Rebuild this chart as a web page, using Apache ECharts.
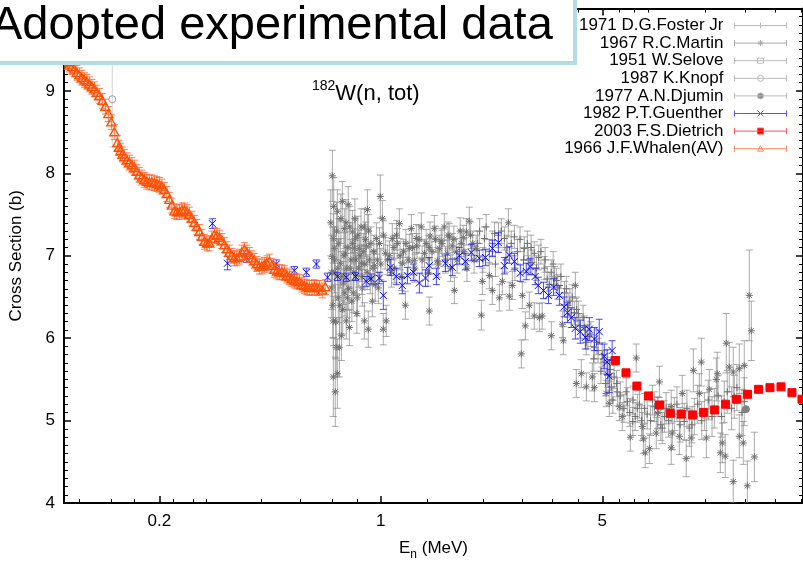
<!DOCTYPE html>
<html>
<head>
<meta charset="utf-8">
<title>182W(n, tot)</title>
<script src="https://cdn.jsdelivr.net/npm/echarts@6/dist/echarts.min.js"></script>
<style>
  html, body { margin: 0; padding: 0; background: #fff; }
  #chart { width: 803px; height: 566px; }
</style>
</head>
<body>
<div id="chart"></div>
<script>
// each point: [E (MeV), cross section (b), error (b)]
var fosterData = [
  [2.123,7.21,0.14],[2.285,7.27,0.14],[2.455,7.21,0.14],[2.639,7.23,0.14],[2.837,7.09,0.14],[3.05,7.03,0.14],
  [3.28,6.85,0.14],[3.53,6.73,0.14],[3.80,6.55,0.14],[4.08,6.31,0.14],[4.39,6.13,0.14],[4.72,5.89,0.14],
  [5.07,5.71,0.14],[5.45,5.53,0.14],[5.58,5.35,0.17],[6.00,5.23,0.17],[6.45,5.15,0.17],[6.93,5.08,0.18],
  [7.30,5.17,0.18],[7.85,5.05,0.19],[8.44,5.08,0.20],[9.07,4.99,0.22],[9.76,5.05,0.22],[10.50,5.11,0.23],
  [11.29,5.15,0.24],[12.13,5.23,0.25],[13.05,5.29,0.26],[14.03,5.23,0.29],[5.34,5.41,0.16],[6.24,4.99,0.17],
  [7.73,4.91,0.19],[9.41,4.91,0.22],[2.05,7.30,0.15],[2.20,7.05,0.15],[2.35,7.25,0.15],[2.50,7.10,0.15],
  [2.70,7.05,0.15],[2.90,7.15,0.15],[3.00,6.92,0.15],[3.15,6.98,0.15],[3.35,6.72,0.15],[3.45,6.80,0.15],
  [3.62,6.62,0.15],[3.95,6.45,0.15],[4.20,6.30,0.15],[4.50,6.02,0.15],[4.85,5.85,0.15],[5.20,5.55,0.15],
  [2.02,7.15,0.15],[2.10,6.95,0.15],[2.15,7.35,0.15],[2.25,7.15,0.15],[2.30,6.90,0.15],[2.40,7.30,0.15],
  [2.48,6.95,0.15],[2.58,7.15,0.15],[2.65,6.85,0.15],[2.75,7.20,0.15],[2.82,6.95,0.15],[2.92,6.95,0.15],
  [2.98,7.10,0.15],[3.10,6.85,0.15],[3.20,7.05,0.15],[3.30,6.95,0.15],[3.40,6.65,0.15],[3.50,6.90,0.15],
  [3.58,6.70,0.15],[3.70,6.75,0.15],[3.85,6.60,0.15],[3.90,6.40,0.15],[4.02,6.50,0.15],[4.15,6.35,0.15],
  [4.25,6.15,0.15],[4.35,6.25,0.15],[4.45,5.95,0.15],[4.60,6.05,0.15],[4.70,5.75,0.15],[4.80,5.95,0.15],
  [4.95,5.60,0.15],[5.00,5.80,0.15],[5.12,5.45,0.15],[5.30,5.62,0.15],[5.40,5.25,0.16],[5.55,5.45,0.16],
  [5.70,5.30,0.17],[5.85,5.15,0.17],[5.95,5.35,0.17],[6.10,5.10,0.17],[6.25,5.25,0.17],[6.35,5.05,0.17],
  [6.55,5.20,0.17],[6.65,5.00,0.18],[6.80,5.15,0.18],[7.10,5.00,0.18],[7.20,5.25,0.18],[7.50,5.10,0.19],
  [7.65,4.95,0.19],[7.95,5.15,0.19],[8.10,5.00,0.20],[8.60,5.20,0.21],[8.80,4.95,0.21],[9.25,5.15,0.22],
  [9.60,4.95,0.22],[10.0,5.20,0.23],[10.3,5.00,0.23],[10.8,5.25,0.24],[11.1,5.05,0.24],[11.6,5.30,0.25],
  [11.9,5.05,0.25],[12.4,5.35,0.26],[12.8,5.15,0.26],[13.3,5.40,0.28],[13.8,5.10,0.28]
];
var martinData = [
  [0.703,7.97,0.31],[0.729,7.54,0.26],[0.756,7.66,0.24],[0.789,7.62,0.22],[0.708,7.21,0.30],[0.713,7.09,0.26],
  [0.703,6.99,0.36],[0.708,6.21,0.30],[0.723,5.89,0.36],[0.740,5.89,0.36],[0.751,6.03,0.30],[0.729,5.57,0.42],
  [0.767,7.33,0.24],[0.778,6.21,0.22],[0.796,6.13,0.22],[0.813,7.29,0.26],[0.825,7.09,0.24],[0.837,6.76,0.24],
  [0.855,7.09,0.22],[0.887,7.35,0.22],[0.907,7.56,0.24],[0.887,6.21,0.22],[0.913,6.11,0.22],[0.940,6.45,0.19],
  [0.954,6.88,0.19],[0.996,7.72,0.26],[1.011,7.45,0.22],[1.040,6.21,0.19],[1.018,6.11,0.19],[1.064,7.00,0.18],
  [1.087,7.21,0.18],[1.144,7.39,0.18],[1.195,6.40,0.17],[1.248,7.33,0.17],[1.230,7.09,0.17],[1.294,7.21,0.17],
  [1.342,7.35,0.17],[1.422,6.33,0.17],[1.430,7.24,0.17],[1.475,7.33,0.16],[1.530,7.09,0.16],[1.586,7.35,0.16],
  [1.645,7.23,0.16],[1.706,6.58,0.16],[1.731,7.05,0.16],[1.862,7.29,0.16],[1.902,7.42,0.17],[1.999,7.09,0.16],
  [0.698,6.61,0.36],[0.718,6.79,0.33],[0.734,6.49,0.30],[0.745,6.91,0.30],[0.762,6.67,0.26],[0.773,7.03,0.26],
  [0.784,6.49,0.24],[0.801,6.85,0.24],[0.819,6.55,0.24],[0.831,7.21,0.24],[0.843,6.49,0.22],[0.868,6.91,0.22],
  [0.874,6.61,0.22],[0.900,7.11,0.22],[0.926,6.73,0.19],[0.968,7.21,0.19],[0.982,6.61,0.19],[1.033,7.03,0.19],
  [1.103,6.85,0.18],[1.127,7.15,0.18],[1.169,6.91,0.17],[1.275,6.94,0.17],[1.373,7.03,0.17],[1.508,6.94,0.16],
  [1.621,7.03,0.16],[1.795,7.15,0.16],[0.708,5.53,0.48],[0.718,5.35,0.42],[1.10,7.10,0.15],[1.18,7.05,0.15],
  [1.30,7.12,0.15],[1.42,7.10,0.15],[1.55,7.18,0.15],[1.68,7.12,0.15],[1.82,7.22,0.15],[1.95,7.15,0.15],
  [0.695,7.40,0.40],[0.700,6.80,0.45],[0.705,6.40,0.40],[0.710,7.60,0.35],[0.715,6.95,0.40],[0.720,6.20,0.45],
  [0.725,7.30,0.35],[0.732,6.85,0.35],[0.737,7.15,0.30],[0.742,6.40,0.35],[0.748,7.45,0.30],[0.753,6.75,0.30],
  [0.758,6.35,0.30],[0.765,7.00,0.28],[0.770,6.55,0.28],[0.776,7.40,0.28],[0.781,6.85,0.26],[0.787,7.10,0.26],
  [0.792,6.60,0.26],[0.798,7.35,0.25],[0.805,6.95,0.25],[0.810,6.45,0.25],[0.816,7.15,0.25],[0.822,6.80,0.24],
  [0.828,7.45,0.24],[0.834,6.95,0.24],[0.840,6.30,0.24],[0.846,7.25,0.23],[0.852,6.85,0.23],[0.860,7.00,0.22],
  [0.866,7.35,0.22],[0.872,6.75,0.22],[0.880,7.05,0.22],[0.890,6.90,0.21],[0.895,7.20,0.21],[0.905,6.80,0.21],
  [0.915,7.30,0.20],[0.920,6.95,0.20],[0.930,7.15,0.20],[0.945,6.85,0.20],[0.950,7.05,0.20],[0.960,6.65,0.20],
  [0.975,6.95,0.19],[0.990,7.15,0.19],[1.000,6.90,0.19],[1.02,7.25,0.18],[1.05,6.95,0.18],[1.08,6.80,0.18],
  [1.12,7.25,0.18],[1.15,7.00,0.17],[1.16,6.75,0.17],[1.20,7.15,0.17],[1.22,6.95,0.17],[1.26,7.10,0.17],
  [1.28,6.85,0.17],[1.32,7.20,0.17],[1.35,6.95,0.17],[1.39,7.15,0.17],[1.41,6.80,0.17],[1.45,7.05,0.16],
  [1.49,7.20,0.16],[1.52,6.90,0.16],[1.56,7.15,0.16],[1.60,6.95,0.16],[1.63,7.25,0.16],[1.66,6.85,0.16],
  [1.70,7.20,0.16],[1.74,6.95,0.16],[1.78,7.30,0.16],[1.83,7.05,0.16],[1.87,6.85,0.16],[1.92,7.25,0.16],
  [1.97,6.95,0.16],
  [2.076,6.28,0.18],[2.248,6.58,0.17],[2.526,7.40,0.17],[2.544,6.51,0.17],[2.776,5.81,0.17],[2.858,6.15,0.17],
  [2.600,6.64,0.17],[3.164,6.25,0.17],[3.452,6.03,0.17],[3.767,5.97,0.17],[4.139,5.45,0.17],[4.293,5.57,0.17],
  [4.650,5.53,0.17],[4.452,5.41,0.17],[4.718,5.40,0.17],[2.366,6.49,0.16],[2.200,6.76,0.16],[2.091,6.69,0.16],
  [2.418,6.69,0.16],[2.796,6.52,0.16],[2.942,6.40,0.16],[3.050,6.27,0.16],[3.230,6.27,0.16],[3.740,6.17,0.16],
  [4.110,6.64,0.16],[5.14,5.33,0.16],[5.261,5.21,0.16],[5.658,5.17,0.17],[5.78,5.05,0.17],[6.13,4.80,0.17],
  [6.69,4.93,0.17],[6.74,4.78,0.18],[6.83,4.61,0.18],[7.04,4.66,0.18],[6.40,5.76,0.17],[7.57,5.47,0.19],
  [7.46,5.09,0.19],[7.40,4.85,0.19],[8.25,5.17,0.20],[8.32,4.85,0.20],[8.25,4.67,0.20],[8.75,4.81,0.22],
  [8.94,5.33,0.22],[9.20,4.54,0.22],[9.55,4.79,0.23],[9.69,5.61,0.26],[10.27,5.71,0.29],[10.12,5.33,0.24],
  [10.65,4.79,0.24],[10.88,5.38,0.24],[11.45,5.50,0.26],[11.53,5.57,0.26],[11.79,4.61,0.24],[11.96,4.73,0.24],
  [12.22,4.57,0.26],[12.31,5.94,0.36],[12.58,5.65,0.30],[12.95,5.59,0.30],[12.95,4.26,0.26],[13.53,5.63,0.30],
  [13.53,4.81,0.26],[14.03,5.67,0.30],[13.93,4.73,0.26],[14.35,4.21,0.30],[14.55,6.52,0.55],[14.77,6.09,0.36],
  [15.10,4.56,0.30]
];
var seloveData = [];
var knopfData = [[0.142,8.90,0.58]];
var djuminData = [[14.2,5.14,0]];
var guentherData = [
  [0.294,7.39,0.06],[0.328,6.91,0.08],[0.376,6.97,0.05],[0.468,6.90,0.05],[0.533,6.82,0.05],[0.582,6.80,0.05],
  [0.626,6.90,0.05],[0.679,6.74,0.05],[0.729,6.75,0.05],[0.778,6.74,0.05],[0.831,6.75,0.05],[0.899,6.69,0.06],
  [0.933,6.72,0.06],[0.989,6.73,0.07],[1.018,6.52,0.17],[1.071,6.86,0.10],[1.119,6.75,0.10],[1.169,6.64,0.10],
  [1.213,6.76,0.10],[1.266,6.80,0.10],[1.323,6.67,0.12],[1.383,6.73,0.10],[1.422,6.88,0.10],[1.497,6.75,0.10],
  [1.598,6.91,0.10],[1.681,6.86,0.10],[1.769,7.00,0.10],[1.848,6.93,0.10],[1.929,7.04,0.10],[2.046,6.97,0.10],
  [2.138,6.98,0.10],[2.250,7.09,0.10],[2.350,7.16,0.12],[2.455,6.88,0.10],[2.544,7.01,0.10],[2.639,6.93,0.10],
  [2.756,6.79,0.10],[2.877,6.81,0.10],[2.960,6.87,0.10],[3.070,6.75,0.10],[3.140,6.64,0.10],[3.260,6.58,0.10],
  [3.380,6.52,0.10],[3.510,6.62,0.10],[3.660,6.52,0.12],[3.790,6.38,0.12],[3.880,6.31,0.12],[3.990,6.25,0.12],
  [4.110,6.12,0.13],[4.260,6.08,0.14],[4.420,6.01,0.14],[4.550,6.11,0.14],[4.720,5.99,0.14],[4.890,6.08,0.15],
  [5.070,5.78,0.15],[5.180,5.71,0.15],[5.260,5.54,0.20],[5.370,5.85,0.12]
];
var dietrichData = [
  [5.50,5.73,0],[5.94,5.58,0],[6.43,5.42,0],[6.99,5.30,0],[7.58,5.19,0],[8.19,5.09,0],[8.88,5.08,0],
  [9.64,5.07,0],[10.44,5.10,0],[11.31,5.13,0],[12.25,5.20,0],[13.27,5.26,0],[14.37,5.32,0],[15.57,5.38,0],
  [16.91,5.40,0],[18.32,5.41,0],[19.84,5.34,0],[21.34,5.26,0]
];
var whalenData = [
  [0.1012,9.38,0.09],[0.1026,9.35,0.09],[0.1041,9.32,0.09],[0.1060,9.29,0.09],[0.1078,9.26,0.09],[0.1098,9.22,0.09],
  [0.1118,9.19,0.09],[0.1139,9.16,0.09],[0.1160,9.13,0.09],[0.1181,9.11,0.09],[0.1203,9.08,0.09],[0.1225,9.05,0.09],
  [0.1247,9.02,0.09],[0.1270,8.98,0.09],[0.1293,8.94,0.09],[0.1322,8.88,0.09],[0.1351,8.81,0.09],[0.1381,8.72,0.09],
  [0.1411,8.62,0.09],[0.1442,8.50,0.09],[0.1474,8.37,0.09],[0.1490,8.31,0.09],[0.1507,8.27,0.09],[0.1530,8.23,0.09],
  [0.1551,8.20,0.09],[0.1580,8.16,0.09],[0.1608,8.13,0.09],[0.1638,8.10,0.09],[0.1668,8.07,0.09],[0.1698,8.02,0.09],
  [0.1729,7.98,0.09],[0.1761,7.95,0.09],[0.1793,7.92,0.09],[0.1826,7.90,0.09],[0.1860,7.89,0.09],[0.1894,7.89,0.09],
  [0.1929,7.88,0.09],[0.1964,7.87,0.09],[0.2000,7.86,0.09],[0.2037,7.84,0.09],[0.2074,7.80,0.09],[0.2112,7.75,0.09],
  [0.2151,7.68,0.09],[0.2190,7.61,0.09],[0.2230,7.54,0.09],[0.2271,7.53,0.09],[0.2313,7.53,0.09],[0.2356,7.55,0.09],
  [0.2399,7.55,0.09],[0.2443,7.53,0.09],[0.2487,7.50,0.09],[0.2533,7.45,0.09],[0.2579,7.40,0.09],[0.2627,7.35,0.09],
  [0.2675,7.29,0.09],[0.2724,7.23,0.09],[0.2774,7.17,0.09],[0.2825,7.15,0.09],[0.2876,7.15,0.09],[0.2929,7.21,0.09],
  [0.2983,7.25,0.09],[0.3037,7.24,0.09],[0.3093,7.22,0.09],[0.3150,7.18,0.09],[0.3208,7.13,0.09],[0.3267,7.08,0.09],
  [0.3327,7.04,0.09],[0.3388,7.00,0.09],[0.3450,6.97,0.09],[0.3513,6.97,0.09],[0.3577,6.99,0.09],[0.3643,7.04,0.09],
  [0.3710,7.07,0.09],[0.3778,7.04,0.09],[0.3847,7.01,0.09],[0.3918,6.97,0.09],[0.3990,6.94,0.09],[0.4063,6.90,0.09],
  [0.4137,6.87,0.09],[0.4213,6.87,0.09],[0.4290,6.89,0.09],[0.4369,6.91,0.09],[0.4449,6.93,0.09],[0.4530,6.88,0.09],
  [0.4613,6.83,0.09],[0.4698,6.81,0.09],[0.4784,6.80,0.09],[0.4872,6.80,0.09],[0.4961,6.79,0.09],[0.5052,6.76,0.09],
  [0.5144,6.74,0.09],[0.5239,6.72,0.09],[0.5335,6.70,0.09],[0.5432,6.69,0.09],[0.5532,6.68,0.09],[0.5634,6.65,0.09],
  [0.5737,6.63,0.09],[0.5842,6.62,0.09],[0.5949,6.61,0.09],[0.6058,6.61,0.09],[0.6169,6.62,0.09],[0.6282,6.61,0.09],
  [0.6397,6.61,0.09],[0.6535,6.58,0.09],[0.6680,6.62,0.09]
];
var xTickValues = [0.2, 1, 5];
var xMinorTickValues = [0.112, 0.141, 0.167, 0.222, 0.255, 0.282, 0.42, 0.557, 0.704, 0.844,
  1.4, 2.1, 2.8, 3.48, 4.2, 5.66, 6.31, 6.98, 10.6, 14.1, 17.6, 21.2];
var seriesNames = ['1971 D.G.Foster Jr', '1967 R.C.Martin', '1951 W.Selove', '1987 K.Knopf',
  '1977 A.N.Djumin', '1982 P.T.Guenther', '2003 F.S.Dietrich', '1966 J.F.Whalen(AV)'];

var FONT = '"Liberation Sans", Arial, Helvetica, sans-serif';

function seg(x1, y1, x2, y2, style) {
  return { type: 'line', shape: { x1: x1, y1: y1, x2: x2, y2: y2 }, style: style };
}

// gnuplot-like point symbols
function marker(kind, cx, cy, r, color, lw) {
  var s = { stroke: color, lineWidth: lw, fill: 'none' };
  var f = { fill: color, stroke: color, lineWidth: 1 };
  var d = r * 0.75;
  switch (kind) {
    case 'plus':
      return [seg(cx - r, cy, cx + r, cy, s), seg(cx, cy - r, cx, cy + r, s)];
    case 'star':
      return [seg(cx - r, cy, cx + r, cy, s), seg(cx, cy - r, cx, cy + r, s),
              seg(cx - d, cy - d, cx + d, cy + d, s), seg(cx - d, cy + d, cx + d, cy - d, s)];
    case 'cross':
      return [seg(cx - r, cy - r, cx + r, cy + r, s), seg(cx - r, cy + r, cx + r, cy - r, s)];
    case 'square':
      return [{ type: 'rect', shape: { x: cx - r, y: cy - r, width: 2 * r, height: 2 * r }, style: s }];
    case 'squareFill':
      return [{ type: 'rect', shape: { x: cx - r, y: cy - r, width: 2 * r, height: 2 * r }, style: f }];
    case 'circle':
      return [{ type: 'circle', shape: { cx: cx, cy: cy, r: r }, style: s }];
    case 'circleFill':
      return [{ type: 'circle', shape: { cx: cx, cy: cy, r: r }, style: f }];
    case 'triangle':
      return [{ type: 'polygon', shape: { points: [[cx, cy - r], [cx + r, cy + r * 0.8], [cx - r, cy + r * 0.8]] }, style: s }];
  }
  return [];
}

function errSeries(name, data, kind, color, barColor, r, z, lw) {
  return {
    name: name,
    type: 'custom',
    data: data,
    z: z,
    clip: true,
    silent: true,
    itemStyle: { color: color },
    encode: { x: 0, y: 1 },
    renderItem: function (params, api) {
      var x = api.value(0), y = api.value(1), e = api.value(2);
      var p = api.coord([x, y]);
      var kids = [];
      if (e > 0) {
        var t = api.coord([x, y + e]), b = api.coord([x, y - e]);
        var st = { stroke: barColor, lineWidth: 1 };
        kids.push(seg(p[0], t[1], p[0], b[1], st));
        kids.push(seg(p[0] - 3.5, t[1], p[0] + 3.5, t[1], st));
        kids.push(seg(p[0] - 3.5, b[1], p[0] + 3.5, b[1], st));
      }
      kids = kids.concat(marker(kind, p[0], p[1], r, color, lw || 1));
      return { type: 'group', children: kids };
    }
  };
}

// legend icons: error bar sample with the point symbol in the middle (52 x 6 box)
var BAR = 'M0,0L0,6M0,3L52,3M52,0L52,6';
var legendIcons = [
  BAR + 'M23,3L29,3M26,0L26,6',
  BAR + 'M23,3L29,3M26,0L26,6M23.8,0.8L28.2,5.2M23.8,5.2L28.2,0.8',
  BAR + 'M23,0.5L29,0.5L29,5.5L23,5.5Z',
  BAR + 'M29,3A3,3,0,1,1,23,3A3,3,0,1,1,29,3Z',
  BAR + 'M29,3A3,3,0,1,1,23,3A3,3,0,1,1,29,3Z',
  BAR + 'M23,0L29,6M23,6L29,0',
  BAR + 'M23,0L29,0L29,6L23,6Z',
  BAR + 'M26,0L29,5.5L23,5.5Z'
];
var legendStyles = [
  { color: 'none', borderColor: '#bbbbbb', borderWidth: 1 },
  { color: 'none', borderColor: '#aaaaaa', borderWidth: 1 },
  { color: 'none', borderColor: '#bbbbbb', borderWidth: 1 },
  { color: 'none', borderColor: '#bbbbbb', borderWidth: 1 },
  { color: '#888888', borderColor: '#bbbbbb', borderWidth: 1 },
  { color: 'none', borderColor: '#5555ff', borderWidth: 1 },
  { color: '#ff0000', borderColor: '#ff5555', borderWidth: 1 },
  { color: 'none', borderColor: '#ff8a60', borderWidth: 1 }
];

var chart = echarts.init(document.getElementById('chart'), null, { renderer: 'canvas' });

var xAxisBase = {
  type: 'log', logBase: 10, min: 0.1, max: 21.5, gridIndex: 0,
  splitLine: { show: false },
  axisLine: { onZero: false, lineStyle: { color: '#000', width: 2 } },
  axisTick: { inside: true, length: 7, customValues: xTickValues, lineStyle: { color: '#000', width: 1.5 } }
};
var xMinorBase = {
  type: 'log', logBase: 10, min: 0.1, max: 21.5, gridIndex: 0,
  splitLine: { show: false },
  axisLine: { show: false },
  axisLabel: { show: false },
  axisTick: { inside: true, length: 4, customValues: xMinorTickValues, lineStyle: { color: '#000', width: 1 } }
};
var yAxisBase = {
  type: 'value', min: 4, max: 10, interval: 1, gridIndex: 0,
  splitLine: { show: false },
  axisLine: { onZero: false, lineStyle: { color: '#000', width: 2 } },
  axisTick: { inside: true, length: 7, lineStyle: { color: '#000', width: 1.5 } },
  minorTick: { show: true, splitNumber: 10, length: 4, lineStyle: { color: '#000', width: 1 } }
};

var option = {
  backgroundColor: '#fff',
  animation: false,
  textStyle: { fontFamily: FONT },
  grid: { left: 64, top: 6, right: -2, bottom: 58, containLabel: false },
  xAxis: [
    echarts.util.merge({
      position: 'bottom',
      axisLabel: { customValues: xTickValues, fontSize: 17, color: '#000', margin: 10, fontFamily: FONT },
      name: 'E{sub|n} (MeV)', nameLocation: 'middle', nameGap: 30,
      nameTextStyle: {
        fontSize: 17, color: '#000', fontFamily: FONT, lineHeight: 26,
        rich: { sub: { fontSize: 12, verticalAlign: 'bottom', lineHeight: 26, fontFamily: FONT } }
      }
    }, xAxisBase, true),
    echarts.util.merge({ position: 'top', axisLabel: { show: false } }, xAxisBase, true),
    echarts.util.merge({ position: 'bottom' }, xMinorBase, true),
    echarts.util.merge({ position: 'top' }, xMinorBase, true)
  ],
  yAxis: [
    echarts.util.merge({
      position: 'left',
      axisLabel: { fontSize: 17, color: '#000', margin: 9, fontFamily: FONT },
      name: 'Cross Section (b)', nameLocation: 'middle', nameGap: 24, nameRotate: 90,
      nameTextStyle: { fontSize: 17, color: '#000', fontFamily: FONT }
    }, yAxisBase, true),
    echarts.util.merge({ position: 'right', axisLabel: { show: false } }, yAxisBase, true)
  ],
  legend: {
    orient: 'vertical', right: 14, top: 17, align: 'right', padding: 0,
    itemWidth: 52, itemHeight: 6, itemGap: 0.6,
    selectedMode: false,
    textStyle: { fontSize: 17, color: '#000', fontFamily: FONT, padding: [0, 6, 0, 0] },
    data: seriesNames.map(function (n, i) {
      return { name: n, icon: 'path://' + legendIcons[i], itemStyle: legendStyles[i] };
    })
  },
  graphic: [
    {
      type: 'text', left: 312, top: 79, z: 50,
      style: {
        text: '{sup|182}W(n, tot)', fill: '#000', font: '22px ' + FONT, lineHeight: 30,
        rich: { sup: { fontSize: 14, verticalAlign: 'top', lineHeight: 30, fontFamily: FONT } }
      }
    },
    { type: 'rect', z: 100, shape: { x: -10, y: -10, width: 585, height: 73 },
      style: { fill: '#fff', stroke: '#b5dde1', lineWidth: 4 } },
    { type: 'text', z: 101, x: -9, y: 26,
      style: { text: 'Adopted experimental data', fill: '#000', font: '47px ' + FONT,
               align: 'left', verticalAlign: 'middle' } }
  ],
  series: [
    errSeries(seriesNames[1], martinData, 'star', '#6e6e6e', 'rgba(135,135,135,0.7)', 3.5, 2),
    errSeries(seriesNames[0], fosterData, 'plus', '#6e6e6e', 'rgba(135,135,135,0.7)', 3.5, 2),
    errSeries(seriesNames[2], seloveData, 'square', '#999999', 'rgba(170,170,170,0.6)', 3, 2),
    errSeries(seriesNames[3], knopfData, 'circle', '#9a9a9a', 'rgba(190,190,190,0.7)', 3.5, 3),
    errSeries(seriesNames[4], djuminData, 'circleFill', '#808080', '#aaaaaa', 3.5, 3),
    errSeries(seriesNames[5], guentherData, 'cross', '#0000ff', 'rgba(30,30,255,0.8)', 3.5, 4),
    errSeries(seriesNames[6], dietrichData, 'squareFill', '#ff0000', '#ff5555', 4, 5),
    errSeries(seriesNames[7], whalenData, 'triangle', '#ff5000', 'rgba(255,95,40,0.8)', 4.5, 4, 1.4)
  ]
};

chart.setOption(option);
</script>
</body>
</html>
